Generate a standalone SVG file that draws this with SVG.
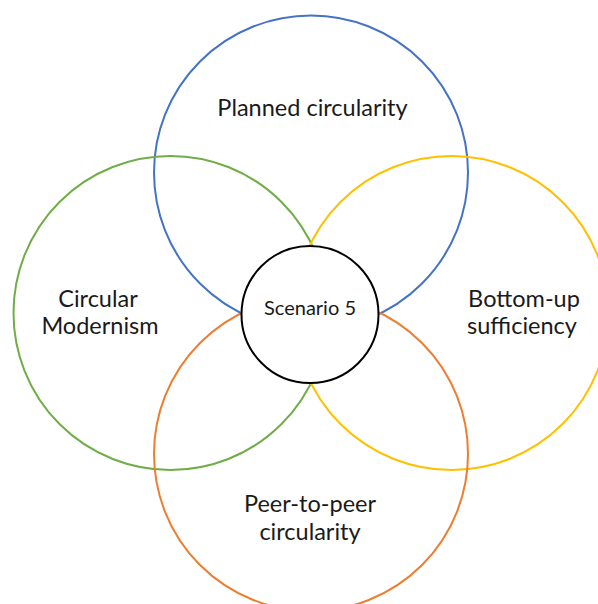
<svg xmlns="http://www.w3.org/2000/svg" width="598" height="604" viewBox="0 0 598 604">
<style>
.ring{fill:none;stroke-width:2}
.lbl{font-family:"Lato","Liberation Sans",sans-serif;font-size:23.5px;fill:#1a1a1a;text-anchor:middle}
.ctr{font-family:"Lato","Liberation Sans",sans-serif;font-size:20px;fill:#1a1a1a;text-anchor:middle}
</style>
<rect width="598" height="604" fill="#ffffff"/>
<g id="planned">
<circle class="ring" cx="311" cy="172.5" r="157" stroke="#4472C4"/>
<text class="lbl" x="312.5" y="116">Planned circularity</text>
</g>
<g id="modernism">
<circle class="ring" cx="170.5" cy="313" r="157" stroke="#70AD47"/>
<text class="lbl" x="98" y="307">Circular</text>
<text class="lbl" x="100" y="334">Modernism</text>
</g>
<g id="bottomup">
<circle class="ring" cx="451.5" cy="313" r="157" stroke="#FFC000"/>
<text class="lbl" x="524" y="307">Bottom-up</text>
<text class="lbl" x="522" y="334">sufficiency</text>
</g>
<g id="peer">
<circle class="ring" cx="311" cy="454" r="157" stroke="#ED7D31"/>
<text class="lbl" x="310" y="512">Peer-to-peer</text>
<text class="lbl" x="310" y="540">circularity</text>
</g>
<g id="scenario5">
<circle cx="310" cy="314.5" r="68.5" fill="#ffffff" stroke="#000000" stroke-width="2"/>
<text class="ctr" x="310" y="315">Scenario 5</text>
</g>
</svg>
